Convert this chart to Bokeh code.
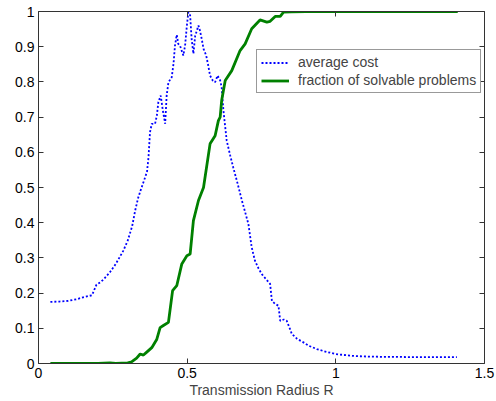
from bokeh.plotting import figure
from bokeh.models import (LinearAxis, Range1d, Legend, LegendItem, FixedTicker,
                          CustomJSTickFormatter)
from bokeh.embed import file_html
from bokeh.resources import INLINE

# ---- data ----
cost_r = [0.04, 0.07, 0.10, 0.13, 0.15, 0.18, 0.195, 0.21, 0.22, 0.24, 0.26, 0.285, 0.30, 0.315,
          0.325, 0.335, 0.345, 0.355, 0.365, 0.37, 0.375, 0.381, 0.392, 0.398, 0.403, 0.411,
          0.418, 0.426, 0.431, 0.437, 0.448, 0.454, 0.459, 0.465, 0.470, 0.476, 0.487, 0.493,
          0.499, 0.504, 0.510, 0.515, 0.521, 0.527, 0.538, 0.543, 0.549, 0.555, 0.564, 0.571,
          0.577, 0.586, 0.594, 0.602, 0.611, 0.616, 0.622, 0.633, 0.645, 0.655, 0.67, 0.684,
          0.695, 0.706, 0.717, 0.728, 0.74, 0.751, 0.765, 0.779, 0.785, 0.795, 0.807, 0.813,
          0.825, 0.835, 0.845, 0.852, 0.87, 0.891, 0.91, 0.936, 0.96, 0.998, 1.05, 1.093, 1.15,
          1.2, 1.25, 1.3, 1.35, 1.407]
cost_v = [0.175, 0.176, 0.178, 0.183, 0.188, 0.194, 0.224, 0.232, 0.24, 0.259, 0.283, 0.32, 0.349,
          0.39, 0.434, 0.47, 0.496, 0.52, 0.545, 0.586, 0.657, 0.681, 0.681, 0.704, 0.742, 0.761,
          0.72, 0.681, 0.761, 0.799, 0.813, 0.851, 0.903, 0.934, 0.908, 0.903, 0.875, 0.903,
          0.96, 0.998, 0.989, 0.922, 0.880, 0.931, 0.960, 0.946, 0.922, 0.894, 0.875, 0.846,
          0.818, 0.804, 0.799, 0.818, 0.804, 0.785, 0.718, 0.633, 0.59, 0.557, 0.51, 0.463,
          0.43, 0.396, 0.33, 0.292, 0.27, 0.254, 0.24, 0.226, 0.178, 0.17, 0.164, 0.121,
          0.125, 0.121, 0.10, 0.084, 0.07, 0.060, 0.05, 0.041, 0.035, 0.027, 0.022, 0.020,
          0.019, 0.019, 0.018, 0.018, 0.018, 0.018]

frac_r = [0.04, 0.20, 0.24, 0.26, 0.30, 0.314, 0.33, 0.342, 0.353, 0.365, 0.381, 0.398, 0.409,
          0.42, 0.437, 0.451, 0.465, 0.482, 0.499, 0.510, 0.521, 0.538, 0.555, 0.577, 0.594,
          0.605, 0.611, 0.616, 0.628, 0.650, 0.678, 0.695, 0.717, 0.745, 0.768, 0.779, 0.796,
          0.813, 0.824, 0.85, 0.9, 1.0, 1.2, 1.41]
frac_v = [0.0, 0.0, 0.002, 0.0, 0.002, 0.005, 0.015, 0.027, 0.024, 0.033, 0.045, 0.069, 0.102,
          0.108, 0.117, 0.207, 0.221, 0.283, 0.306, 0.311, 0.406, 0.463, 0.5, 0.624, 0.647,
          0.69, 0.70, 0.747, 0.804, 0.832, 0.889, 0.908, 0.951, 0.976, 0.970, 0.972, 0.986,
          0.986, 0.998, 0.999, 1.0, 1.0, 1.0, 1.0]

x_ticks = [0, 0.5, 1, 1.5]
y_ticks = [0, 0.1, 0.2, 0.3, 0.4, 0.5, 0.6, 0.7, 0.8, 0.9, 1]
series_labels = ["average cost", "fraction of solvable problems"]
x_label = "Transmission Radius R"

FONT = "Liberation Sans"
FS = "14px"
AXC = "#333333"

p = figure(width=496, height=401, output_backend="svg", toolbar_location=None,
           x_range=Range1d(0, 1.5), y_range=Range1d(0, 1),
           x_axis_location=None, y_axis_location=None,
           min_border_left=38, min_border_right=12, min_border_top=11, min_border_bottom=38)
p.grid.visible = False
p.outline_line_color = None
p.background_fill_color = "white"
p.border_fill_color = "white"

fmt = CustomJSTickFormatter(code="return String(Math.round(tick*10)/10);")
blank = CustomJSTickFormatter(code="return '';")


def make_axis(ticks, show_labels):
    ax = LinearAxis(ticker=FixedTicker(ticks=ticks), formatter=fmt if show_labels else blank)
    ax.major_tick_in = 5
    ax.major_tick_out = 0
    ax.minor_tick_line_color = None
    ax.axis_line_color = AXC
    ax.major_tick_line_color = AXC
    ax.major_label_text_font = FONT
    ax.major_label_text_color = "black"
    ax.major_label_text_font_size = FS
    ax.major_label_standoff = 4 if show_labels else 0
    return ax


xb = make_axis(x_ticks, True)
xb.axis_label = x_label
xb.axis_label_text_font = FONT
xb.axis_label_text_font_size = FS
xb.axis_label_text_font_style = "normal"
xb.axis_label_standoff = 1
p.add_layout(xb, "below")
yl = make_axis(y_ticks, True)
p.add_layout(yl, "left")
p.add_layout(make_axis(x_ticks, False), "above")
p.add_layout(make_axis(y_ticks, False), "right")

r1 = p.line(cost_r, cost_v, line_color="#0000ff", line_width=1.8, line_dash="2 2")
r2 = p.line(frac_r, frac_v, line_color="#008000", line_width=2.8)

leg = Legend(items=[LegendItem(label=series_labels[0], renderers=[r1]),
                    LegendItem(label=series_labels[1], renderers=[r2])],
             location=(218, 270))
leg.label_text_font = FONT
leg.label_text_font_size = FS
leg.label_height = 13
leg.glyph_height = 13
leg.glyph_width = 28
leg.label_standoff = 9
leg.spacing = 2
leg.padding = 4
leg.margin = 0
leg.border_line_color = AXC
leg.border_line_width = 1
leg.background_fill_color = "white"
leg.background_fill_alpha = 1
p.add_layout(leg, "center")

open("out.html", "w").write(file_html(p, INLINE))
